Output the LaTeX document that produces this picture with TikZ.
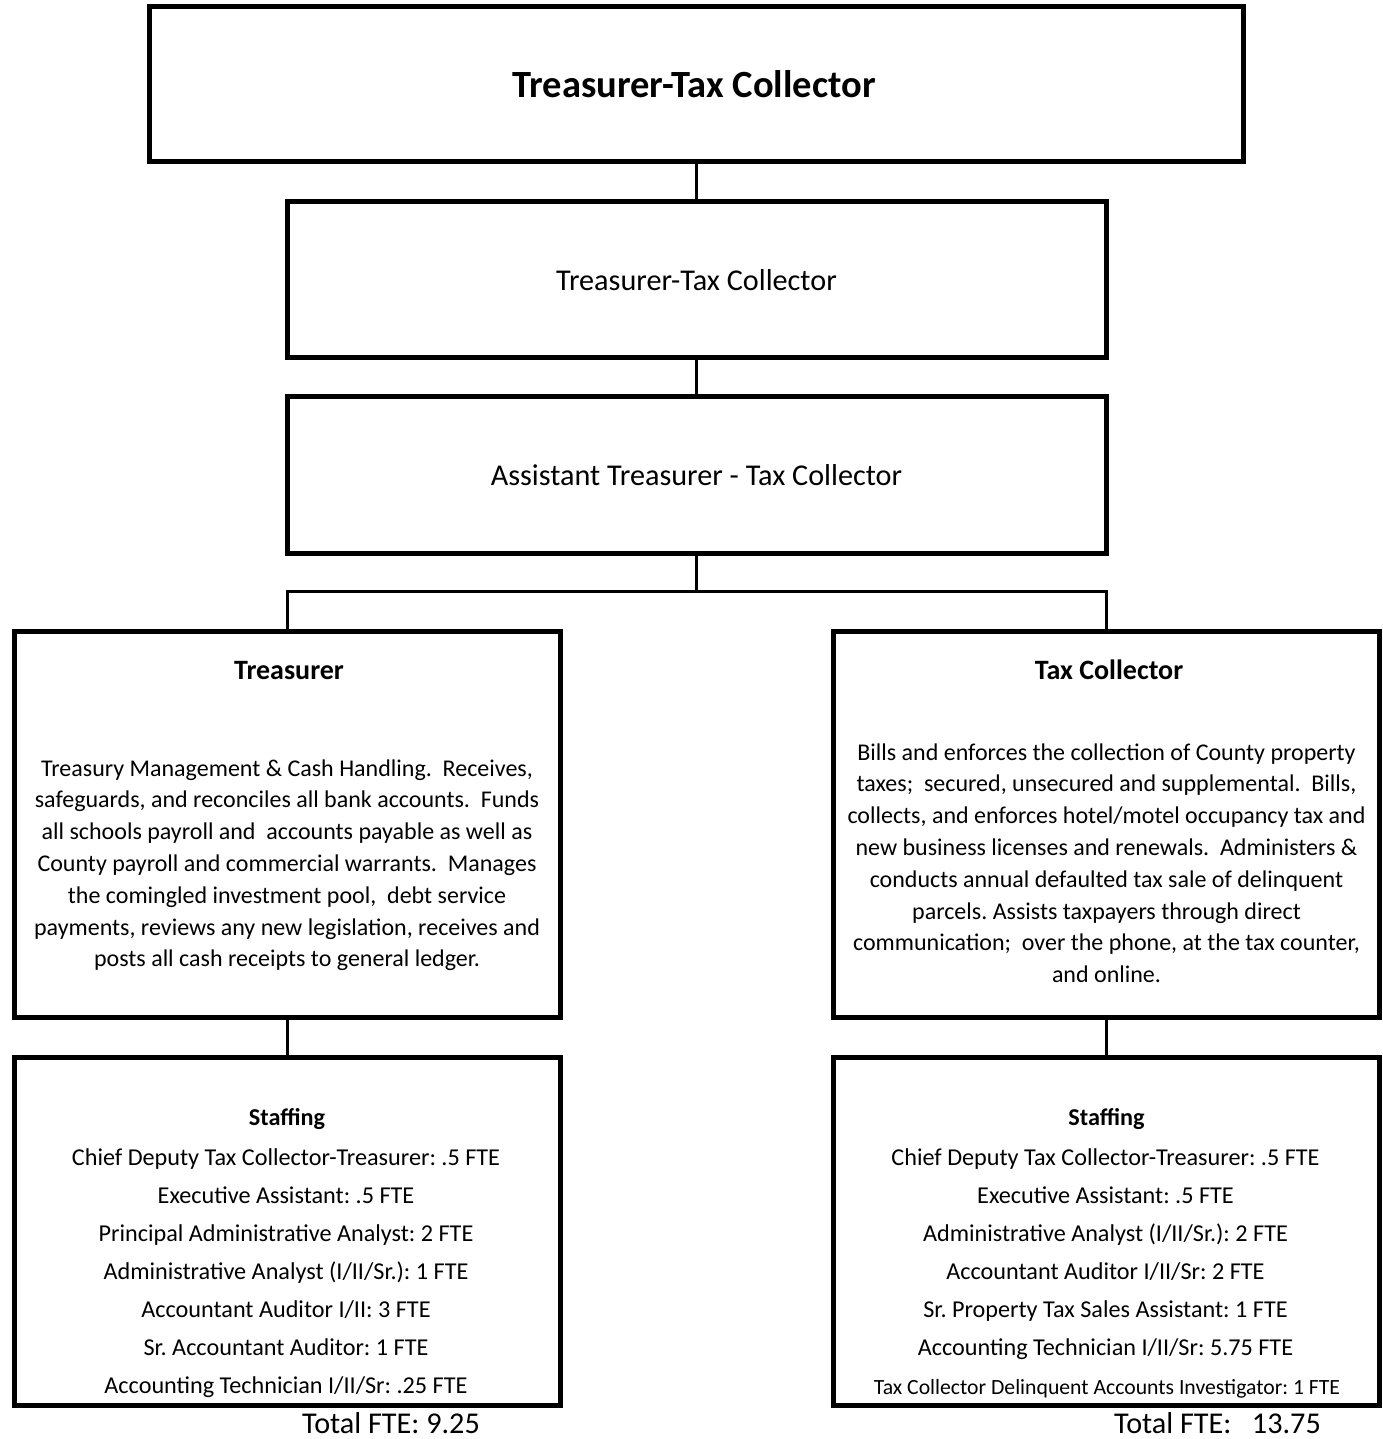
\documentclass[tikz,border=0pt]{standalone}
\usepackage{fontspec}
\setmainfont{Carlito}
\frenchspacing
\begin{document}
\begin{tikzpicture}[x=1pt,y=-1pt,
  box/.style={draw, line width=5pt, rectangle, inner sep=0pt},
  conn/.style={draw, line width=3pt},
  lbl/.style={inner sep=0pt, anchor=base},
  fbody/.style={font=\fontsize{24}{29}\selectfont},
  fstaff/.style={font=\fontsize{24.2}{29}\selectfont},
  fhead/.style={font=\bfseries\fontsize{28}{33}\selectfont}]
\useasboundingbox (0,0) rectangle (1382,1439);

% boxes
\node[box, minimum width=1094pt, minimum height=155pt] (top) at (696.5,84) {};
\node[box, minimum width=819pt, minimum height=155.5pt] (mid) at (696.5,279.25) {};
\node[box, minimum width=819pt, minimum height=156.5pt] (asst) at (696.5,474.75) {};
\node[box, minimum width=545.5pt, minimum height=386pt] (tr) at (287.25,824) {};
\node[box, minimum width=546pt, minimum height=386pt] (tc) at (1106.5,824) {};
\node[box, minimum width=545.5pt, minimum height=347.5pt] (ls) at (287.25,1231.25) {};
\node[box, minimum width=546pt, minimum height=347.5pt] (rs) at (1106.5,1231.25) {};

% connectors
\coordinate (split) at (696.5,591.3);
\draw[conn] (top.south) -- (mid.north);
\draw[conn] (mid.south) -- (asst.north);
\draw[conn] (asst.south) -- (split);
\draw[conn] (tr.north) |- (split) -| (tc.north);
\draw[conn] (tr.south) -- (ls.north);
\draw[conn] (tc.south) -- (rs.north);

% headings of the upper boxes
\node[lbl, font=\bfseries\fontsize{38.5}{46}\selectfont] (toptxt) at (694,97.5) {Treasurer-Tax Collector};
\node[lbl, font=\fontsize{30.2}{36}\selectfont] (midtxt) at (696.5,290) {Treasurer-Tax Collector};
\node[lbl, font=\fontsize{30.2}{36}\selectfont] (assttxt) at (696.5,485) {Assistant Treasurer - Tax Collector};

% division headings
\node[lbl, fhead] (trhead) at (289,679) {Treasurer};
\node[lbl, fhead] (tchead) at (1109,679) {Tax Collector};

% division descriptions, both blocks centred on the same height
\foreach \ln [count=\i] in {
  {Treasury Management \& Cash Handling.\ \ Receives,},
  {safeguards, and reconciles all bank accounts.\ \ Funds},
  {all schools payroll and\ \ accounts payable as well as},
  {County payroll and commercial warrants.\ \ Manages},
  {the comingled investment pool,\ \ debt service},
  {payments, reviews any new legislation, receives and},
  {posts all cash receipts to general ledger.}}
  \node[lbl, fbody] (trl\i) at (287,{776+31.8*(\i-1)}) {\ln};

\foreach \ln [count=\i] in {
  {Bills and enforces the collection of County property},
  {taxes;\ \ secured, unsecured and supplemental.\ \ Bills,},
  {collects, and enforces hotel/motel occupancy tax and},
  {new business licenses and renewals.\ \ Administers \&},
  {conducts annual defaulted tax sale of delinquent},
  {parcels. Assists taxpayers through direct},
  {communication;\ \ over the phone, at the tax counter,},
  {and online.}}
  \node[lbl, fbody] (tcl\i) at (1106.5,{760+31.8*(\i-1)}) {\ln};

% staffing
\node[lbl, font=\bfseries\fontsize{24.2}{29}\selectfont] (lshead) at (287,1125) {Staffing};
\node[lbl, font=\bfseries\fontsize{24.2}{29}\selectfont] (rshead) at (1106.5,1125) {Staffing};

\foreach \ln [count=\i] in {
  {Chief Deputy Tax Collector-Treasurer: .5 FTE},
  {Executive Assistant: .5 FTE},
  {Principal Administrative Analyst: 2 FTE},
  {Administrative Analyst (I/II/Sr.): 1 FTE},
  {Accountant Auditor I/II: 3 FTE},
  {Sr. Accountant Auditor: 1 FTE},
  {Accounting Technician I/II/Sr: .25 FTE}}
  \node[lbl, fstaff] (lsl\i) at (286,{1165+38.1*(\i-1)}) {\ln};

\foreach \ln [count=\i] in {
  {Chief Deputy Tax Collector-Treasurer: .5 FTE},
  {Executive Assistant: .5 FTE},
  {Administrative Analyst (I/II/Sr.): 2 FTE},
  {Accountant Auditor I/II/Sr: 2 FTE},
  {Sr. Property Tax Sales Assistant: 1 FTE},
  {Accounting Technician I/II/Sr: 5.75 FTE}}
  \node[lbl, fstaff] (rsl\i) at (1105.5,{1165+38.1*(\i-1)}) {\ln};
\node[lbl, font=\fontsize{21.7}{26}\selectfont] (rsl7) at (1107,1394) {Tax Collector Delinquent Accounts Investigator: 1 FTE};

% totals
\node[lbl, anchor=base west, font=\fontsize{30.2}{36}\selectfont] (lstot) at (302,1433) {Total FTE:\ 9.25};
\node[lbl, anchor=base west, font=\fontsize{30.2}{36}\selectfont] (rstot) at (1114,1433) {Total FTE:\ \ \ 13.75};
\end{tikzpicture}
\end{document}
